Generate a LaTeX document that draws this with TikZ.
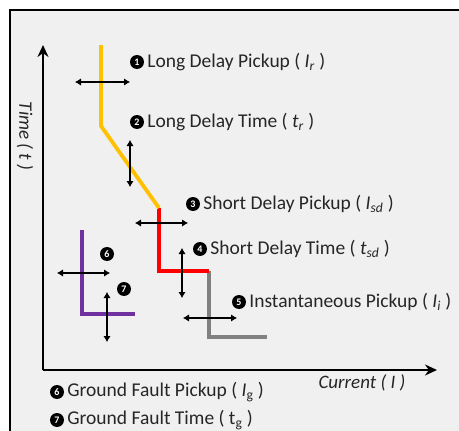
\documentclass[tikz,border=0pt]{standalone}
\usepackage{fontspec}
\setmainfont{Carlito}
\usetikzlibrary{arrows.meta,positioning}
\definecolor{panel}{HTML}{F0F0F0}
\definecolor{ink}{HTML}{262626}
\definecolor{longc}{HTML}{FFC000}
\definecolor{shortc}{HTML}{FF0000}
\definecolor{instc}{HTML}{808080}
\definecolor{gndc}{HTML}{7030A0}
\tikzset{
  axis/.style={draw=black, line width=2.6pt, -{Stealth[length=12pt,width=11pt]}},
  curve/.style={line width=3.8pt},
  adj/.style={draw=black, line width=2pt, {Latex[length=6pt,width=7.5pt]}-{Latex[length=6pt,width=7.5pt]}},
  num/.style={circle, fill=black, text=white, inner sep=0pt, minimum size=14pt, font=\fontsize{10}{10}\selectfont\bfseries},
  lab/.style={text=ink, font=\fontsize{19.5}{21}\selectfont, inner sep=1pt},
  axlab/.style={text=ink, font=\fontsize{19}{21}\selectfont\itshape, inner sep=1pt},
}
\begin{document}
\begin{tikzpicture}[x=1pt,y=-1pt]
\useasboundingbox (0,0) rectangle (459,431);
\fill[panel] (10,10) rectangle (459,431);
\draw[line width=2pt] (10,431) -- (10,10) -- (459,10);

% axes
\coordinate (o) at (43,370);
\coordinate (ytop) at (43,45);
\coordinate (xend) at (437,370);
\draw[axis] (o) -- (ytop);
\draw[axis] (o) -- (xend);
\node[axlab, rotate=-90] (tlab) at (25,136) {Time ( t )};
\node[axlab] (ilab) at (362,383) {Current ( I )};

% trip curve
\coordinate (l0) at (101,45);
\coordinate (l1) at (101,126);
\coordinate (s0) at (159,208);
\coordinate (s1) at (159,271);
\coordinate (i0) at (209,271);
\coordinate (i1) at (209,337);
\coordinate (i2) at (267,337);
\draw[curve, instc] (i0) -- (i1) -- (i2);
\draw[curve, shortc] (s0) -- (s1) -- (i0);
\draw[curve, longc] (l0) -- (l1) -- (s0);

% ground fault
\coordinate (g0) at (82,230);
\coordinate (g1) at (82,314);
\coordinate (g2) at (135,314);
\draw[curve, gndc] (g0) -- (g1) -- (g2);

% adjustments
\foreach \n/\xa/\ya/\xb/\yb in {1/75/82/130/82, 2/130/140/130/187, 3/135/223/188/223,
    4/182/248/182/298, 5/183/318/237/318, 6/57/273/110/273, 7/107/292/107/342} {
  \coordinate (a\n-s) at (\xa,\ya);
  \coordinate (a\n-e) at (\xb,\yb);
  \draw[adj] (a\n-s) -- (a\n-e);
}

% numbers and labels
\node[num] (n1) at (137,62) {1};
\node[num] (n2) at (137,122) {2};
\node[num] (n3) at (193,204) {3};
\node[num] (n4) at (200,249) {4};
\node[num] (n5) at (239,302) {5};
\node[num] (n6) at (107,254) {6};
\node[num] (n7) at (124,289) {7};
\node[lab, right=2pt of n1] (t1) {Long Delay Pickup ( \textit{I}\textsubscript{\textit{r}} )};
\node[lab, right=2pt of n2] (t2) {Long Delay Time ( \textit{t}\textsubscript{\textit{r}} )};
\node[lab, right=2pt of n3] (t3) {Short Delay Pickup ( \textit{I}\textsubscript{\textit{sd}} )};
\node[lab, right=2pt of n4] (t4) {Short Delay Time ( \textit{t}\textsubscript{\textit{sd}} )};
\node[lab, right=2pt of n5] (t5) {Instantaneous Pickup ( \textit{I}\textsubscript{\textit{i}} )};
\node[num] (n6b) at (57,392) {6};
\node[num] (n7b) at (57,420) {7};
\node[lab, right=2pt of n6b] (t6) {Ground Fault Pickup ( \textit{I}\textsubscript{g} )};
\node[lab, right=2pt of n7b] (t7) {Ground Fault Time ( t\textsubscript{g} )};
\end{tikzpicture}
\end{document}
